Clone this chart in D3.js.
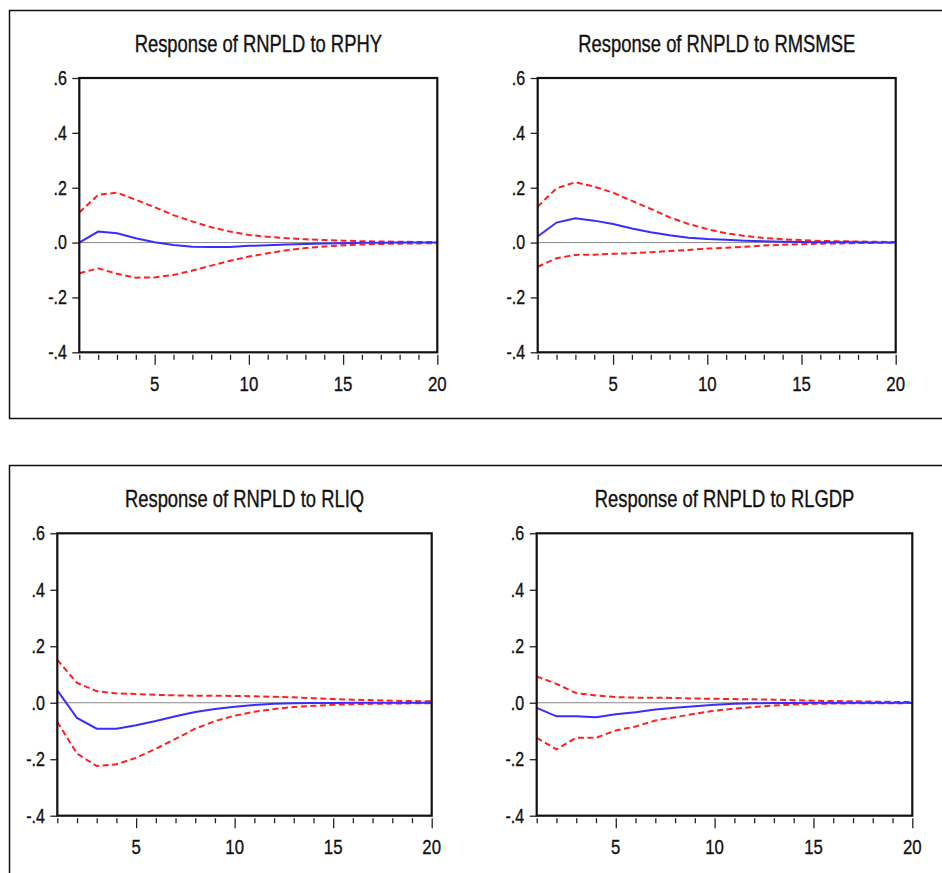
<!DOCTYPE html>
<html>
<head>
<meta charset="utf-8">
<script src="https://cdn.jsdelivr.net/npm/d3@7"></script>
<style>
  html, body { margin: 0; padding: 0; background: #fff; }
  svg { display: block; }
  text { font-family: "Liberation Sans", Arial, sans-serif; fill: #111; stroke: #111; stroke-width: 0.35px; }
</style>
</head>
<body>
<svg id="chart" width="942" height="873"></svg>
<script>
// impulse response periods
const periods = d3.range(1, 21)
const titles = [
  "Response of RNPLD to RPHY",
  "Response of RNPLD to RMSMSE",
  "Response of RNPLD to RLIQ",
  "Response of RNPLD to RLGDP"
]
const yTicks = [-0.4, -0.2, 0.0, 0.2, 0.4, 0.6]
const xLabelTicks = [5, 10, 15, 20]

// RPHY
const rphyMid = [0.000, 0.040, 0.034, 0.016, 0.001, -0.009, -0.015, -0.016, -0.016, -0.012, -0.010, -0.007, -0.005, -0.003, -0.002, -0.001, -0.001, 0.000, 0.000, 0.000]
const rphyUp  = [0.110, 0.174, 0.182, 0.156, 0.129, 0.100, 0.077, 0.056, 0.040, 0.028, 0.021, 0.016, 0.012, 0.009, 0.007, 0.005, 0.004, 0.003, 0.002, 0.002]
const rphyLo  = [-0.112, -0.094, -0.114, -0.128, -0.127, -0.118, -0.102, -0.084, -0.066, -0.051, -0.039, -0.028, -0.020, -0.014, -0.010, -0.007, -0.005, -0.004, -0.003, -0.002]
// RMSMSE
const rmsMid = [0.022, 0.073, 0.089, 0.080, 0.068, 0.051, 0.038, 0.027, 0.018, 0.013, 0.010, 0.007, 0.005, 0.003, 0.002, 0.001, 0.001, 0.001, 0.000, 0.000]
const rmsUp  = [0.131, 0.198, 0.220, 0.204, 0.182, 0.152, 0.123, 0.092, 0.068, 0.049, 0.034, 0.024, 0.017, 0.012, 0.009, 0.006, 0.005, 0.004, 0.003, 0.002]
const rmsLo  = [-0.088, -0.057, -0.045, -0.044, -0.041, -0.039, -0.035, -0.031, -0.027, -0.022, -0.019, -0.015, -0.011, -0.008, -0.006, -0.004, -0.003, -0.002, -0.001, -0.001]
// RLIQ
const rliqMid = [0.044, -0.054, -0.092, -0.092, -0.080, -0.065, -0.048, -0.033, -0.022, -0.014, -0.008, -0.004, -0.002, -0.001, -0.001, 0.000, 0.000, 0.000, 0.000, 0.000]
const rliqUp  = [0.152, 0.070, 0.041, 0.033, 0.031, 0.028, 0.026, 0.025, 0.025, 0.024, 0.023, 0.021, 0.019, 0.016, 0.013, 0.011, 0.009, 0.007, 0.006, 0.005]
const rliqLo  = [-0.068, -0.180, -0.224, -0.218, -0.195, -0.163, -0.128, -0.092, -0.065, -0.046, -0.032, -0.022, -0.015, -0.011, -0.007, -0.005, -0.004, -0.003, -0.002, -0.002]
// RLGDP
const rlgdpMid = [-0.018, -0.048, -0.048, -0.051, -0.041, -0.034, -0.024, -0.018, -0.012, -0.007, -0.004, -0.002, -0.001, -0.001, 0.000, 0.000, 0.000, 0.000, 0.000, 0.000]
const rlgdpUp  = [0.093, 0.067, 0.034, 0.026, 0.020, 0.018, 0.018, 0.017, 0.015, 0.014, 0.013, 0.012, 0.011, 0.009, 0.007, 0.006, 0.005, 0.004, 0.003, 0.003]
const rlgdpLo  = [-0.124, -0.165, -0.124, -0.124, -0.098, -0.084, -0.063, -0.051, -0.039, -0.028, -0.021, -0.015, -0.010, -0.006, -0.004, -0.003, -0.002, -0.002, -0.002, -0.001]

const series = [
  [rphyMid, rphyUp, rphyLo],
  [rmsMid, rmsUp, rmsLo],
  [rliqMid, rliqUp, rliqLo],
  [rlgdpMid, rlgdpUp, rlgdpLo]
]

// panel placement
const panels = [
  {l: 79.3, r: 437.3, t: 78, b: 352.3, titleY: 44, xLabY: 383},
  {l: 537.7, r: 895.7, t: 78, b: 352.3, titleY: 44, xLabY: 383},
  {l: 57.3, r: 431.7, t: 533.3, b: 815.7, titleY: 499, xLabY: 846.5},
  {l: 536.7, r: 912.3, t: 533.3, b: 815.7, titleY: 499, xLabY: 846.5}
]

const svg = d3.select("#chart")
const squeeze = 0.8

// outer frames
svg.append("rect").attr("x", 9.5).attr("y", 10.5).attr("width", 960).attr("height", 408)
  .attr("fill", "none").attr("stroke", "#111").attr("stroke-width", 1.5)
svg.append("rect").attr("x", 9.5).attr("y", 465.5).attr("width", 960).attr("height", 440)
  .attr("fill", "none").attr("stroke", "#111").attr("stroke-width", 1.5)

// EViews style: ".6", "-.2"
const yFmt = d => d3.format(".1f")(d).replace("\u2212", "-").replace("0.", ".")

panels.forEach((p, i) => {
  const x = d3.scaleLinear().domain([1, 20]).range([p.l, p.r])
  const y = d3.scaleLinear().domain([-0.4, 0.6]).range([p.b, p.t])
  const g = svg.append("g")

  // title
  g.append("g")
    .attr("transform", `translate(${(p.l + p.r) / 2},${p.titleY}) scale(${squeeze},1)`)
    .append("text")
    .attr("text-anchor", "middle")
    .attr("dy", "0.36em")
    .attr("font-size", 23)
    .text(titles[i])

  // zero line
  g.append("line")
    .attr("x1", p.l).attr("x2", p.r)
    .attr("y1", y(0)).attr("y2", y(0))
    .attr("stroke", "#888").attr("stroke-width", 1)

  // y axis
  const ya = g.append("g")
    .attr("transform", `translate(${p.l},0)`)
    .call(d3.axisLeft(y).tickValues(yTicks).tickFormat(yFmt).tickSize(7).tickPadding(0))
  ya.select(".domain").remove()
  ya.selectAll(".tick line").attr("stroke", "#222").attr("stroke-width", 1.3)
  ya.selectAll(".tick text")
    .attr("font-size", 20)
    .attr("fill", "#111")
    .attr("x", -12.5 / squeeze)
    .attr("transform", `scale(${squeeze},1)`)

  // x axis ticks (every period, longer on labelled ones)
  const xa = g.append("g")
    .attr("transform", `translate(0,${p.b + 2.5})`)
    .call(d3.axisBottom(x).tickValues(periods).tickSize(5).tickFormat(""))
  xa.select(".domain").remove()
  xa.selectAll(".tick line")
    .attr("stroke", "#222").attr("stroke-width", 1.3)
    .attr("y2", d => xLabelTicks.includes(d) ? 10 : 5)

  // x labels
  g.selectAll(".xlab")
    .data(xLabelTicks)
    .join("g")
    .attr("transform", d => `translate(${x(d)},${p.xLabY}) scale(${squeeze},1)`)
    .append("text")
    .attr("text-anchor", "middle")
    .attr("dy", "0.36em")
    .attr("font-size", 21)
    .text(d => d)

  const line = d3.line().x((d, k) => x(periods[k])).y(d => y(d))
  const [mid, up, lo] = series[i]

  g.append("path").datum(up).attr("d", line)
    .attr("fill", "none").attr("stroke", "#ff1f1f").attr("stroke-width", 2)
    .attr("stroke-dasharray", "6,3.5")
  g.append("path").datum(lo).attr("d", line)
    .attr("fill", "none").attr("stroke", "#ff1f1f").attr("stroke-width", 2)
    .attr("stroke-dasharray", "6,3.5")
  g.append("path").datum(mid).attr("d", line)
    .attr("fill", "none").attr("stroke", "#3a2cff").attr("stroke-width", 2)

  // plot border
  g.append("rect")
    .attr("x", p.l).attr("y", p.t)
    .attr("width", p.r - p.l).attr("height", p.b - p.t)
    .attr("fill", "none").attr("stroke", "#111").attr("stroke-width", 2.2)
})
</script>
</body>
</html>
